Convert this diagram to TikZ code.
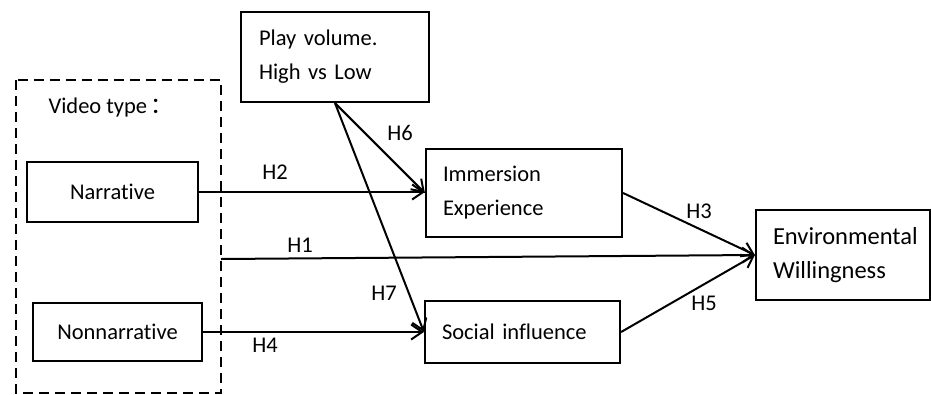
\documentclass[tikz,border=0pt]{standalone}
\usepackage{fontspec}
\setmainfont{Carlito}[Ligatures=NoCommon]
\newfontfamily\cjk{Noto Sans CJK SC}
\usetikzlibrary{arrows.meta}
\begin{document}
\begin{tikzpicture}[x=1pt,y=-1pt,line width=2pt,
	every node/.style={font=\fontsize{22.5}{34}\selectfont},
	box/.style={draw,line width=2.2pt,inner sep=0pt},
	lbox/.style={box,align=left,text width=#1},
	arr/.style={-{Straight Barb[length=11pt,width=15pt]}},
	lab/.style={inner sep=1pt}]
\useasboundingbox (0,0) rectangle (931,394);
% video type group
\draw[dash pattern=on 10pt off 6pt,line width=2.5pt] (16,80) rectangle (221,393);
\node (vt) at (111,107) {Video type\,{\cjk ：}};
\node[box,minimum width=171,minimum height=60] (narr) at (112.5,192) {Narrative};
\node[box,minimum width=169,minimum height=58] (non) at (117.5,332) {Nonnarrative};
\coordinate (h1s) at (221,259);
% the other boxes
\node[lbox=152,minimum width=188,minimum height=90] (play) at (335,57) {Play volume.\\High vs Low};
\node[lbox=162,minimum width=196,minimum height=88] (imm) at (524,193) {Immersion\\Experience};
\node[lbox=161,minimum width=195,minimum height=62] (soc) at (522.5,332) {Social influence};
\node[lbox=140,minimum width=174,minimum height=90,font=\fontsize{24.5}{34}\selectfont] (env) at (843,255) {Environmental\\Willingness};
% paths
\draw[arr] (narr.east) -- (narr.east -| imm.west);
\draw[arr] (h1s) -- (env.west);
\draw[arr] (non.east) -- (non.east -| soc.west);
\draw[arr] (play.south) -- (imm.west);
\draw[arr] (play.south) -- (soc.west);
\draw[arr] (imm.east) -- (env.west);
\draw[arr] (soc.east) -- (env.west);
% labels
\node[lab] (h1) at (300,245) {H1};
\node[lab] (h2) at (275,172) {H2};
\node[lab] (h3) at (699,211) {H3};
\node[lab] (h4) at (265,345) {H4};
\node[lab] (h5) at (704,303) {H5};
\node[lab] (h6) at (400,133) {H6};
\node[lab] (h7) at (384,293) {H7};
\end{tikzpicture}
\end{document}
